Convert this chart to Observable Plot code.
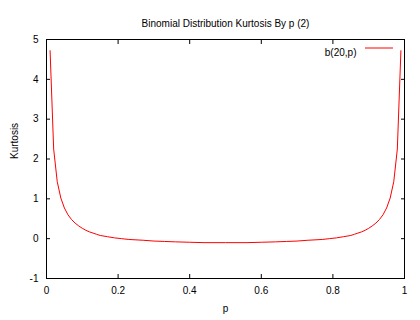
<!DOCTYPE html>
<html>
<head>
<meta charset="utf-8">
<script src="https://cdn.jsdelivr.net/npm/d3@7"></script>
<script src="https://cdn.jsdelivr.net/npm/@observablehq/plot@0.6"></script>
<style>
  html, body { margin: 0; padding: 0; background: #fff; }
  svg { overflow: visible; }
</style>
</head>
<body>
<div id="chart"></div>
<script>
const title = "Binomial Distribution Kurtosis By p (2)";
const seriesName = "b(20,p)";
const xLabel = "p";
const yLabel = "Kurtosis";
const xTicks = [0, 0.2, 0.4, 0.6, 0.8, 1];
const yTicks = [-1, 0, 1, 2, 3, 4, 5];
const pValues = [0.01,0.02,0.03,0.04,0.05,0.06,0.07,0.08,0.09,0.10,0.11,0.12,0.13,0.14,0.15,0.17,0.19,0.21,0.23,0.25,0.27,0.30,0.33,0.36,0.40,0.44,0.50,
  0.56,0.60,0.64,0.67,0.70,0.73,0.75,0.77,0.79,0.81,0.83,0.85,0.86,0.87,0.88,0.89,0.90,0.91,0.92,0.93,0.94,0.95,0.96,0.97,0.98,0.99];
const kurtosis = [4.72,2.25,1.43,1.02,0.77,0.60,0.48,0.39,0.32,0.26,0.21,0.17,0.14,0.11,0.08,0.05,0.02,0.00,-0.02,-0.03,-0.04,-0.06,-0.07,-0.08,-0.09,-0.10,-0.10,
  -0.10,-0.09,-0.08,-0.07,-0.06,-0.04,-0.03,-0.02,0.00,0.02,0.05,0.08,0.11,0.14,0.17,0.21,0.26,0.32,0.39,0.48,0.60,0.77,1.02,1.43,2.25,4.72];

const data = pValues.map((p, i) => ({p, k: kurtosis[i]}));
const font = "'Liberation Sans', Arial, sans-serif";
const fmt = d => String(d);

const chart = Plot.plot({
  width: 420,
  height: 320,
  marginLeft: 46,
  marginRight: 16,
  marginTop: 39,
  marginBottom: 42,
  style: {fontFamily: font, fontSize: "10px", color: "#000", background: "#fff"},
  x: {domain: [0, 1]},
  y: {domain: [-1, 5]},
  marks: [
    Plot.frame({stroke: "#000"}),
    Plot.axisX({anchor: "bottom", ticks: xTicks, tickFormat: fmt, tickSize: -4, tickPadding: 12, label: null, fontSize: 10}),
    Plot.axisX({anchor: "top", ticks: xTicks, tickSize: -4, tickFormat: () => "", label: null}),
    Plot.axisY({anchor: "left", ticks: yTicks, tickFormat: fmt, tickSize: -4, tickPadding: 12, label: null, fontSize: 10}),
    Plot.axisY({anchor: "right", ticks: yTicks, tickSize: -4, tickFormat: () => "", label: null}),
    Plot.line(data, {x: "p", y: "k", stroke: "red", strokeWidth: 1}),
    Plot.text([title], {frameAnchor: "top", dy: -20, fontSize: 10}),
    Plot.text([xLabel], {frameAnchor: "bottom", dy: 33, fontSize: 10}),
    Plot.text([yLabel], {frameAnchor: "left", dx: -32, rotate: -90, fontSize: 10}),
    Plot.text([seriesName], {frameAnchor: "top-right", dx: -48, dy: 9, textAnchor: "end", fontSize: 10})
  ]
});

// legend sample line
const svg = d3.select(chart);
svg.append("line")
  .attr("x1", 365).attr("x2", 393)
  .attr("y1", 48).attr("y2", 48)
  .attr("stroke", "red").attr("stroke-width", 1);

document.getElementById("chart").appendChild(chart);
</script>
</body>
</html>
